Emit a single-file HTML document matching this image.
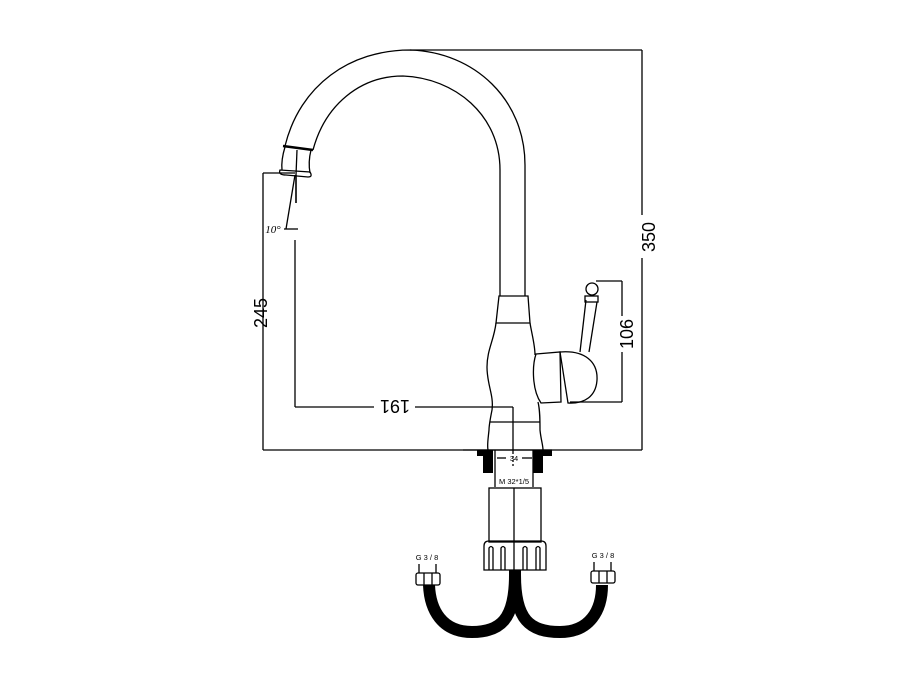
<!DOCTYPE html>
<html><head><meta charset="utf-8"><style>
html,body{margin:0;padding:0;background:#fff;}
svg{display:block;}
text{font-family:"Liberation Sans",sans-serif;fill:#000;}
</style></head><body>
<svg width="900" height="679" viewBox="0 0 900 679" xmlns="http://www.w3.org/2000/svg">
<g fill="none" stroke="#000" stroke-width="1.3">
<path d="M285,146 C300,85 350,50 410,50 C475,52 525,100 525,165 L525,296"/>
<path d="M313,150 C325,105 360,76 403,76 C455,78 500,115 500,170 L500,296"/>
<path d="M283,146 L313,150" stroke-width="2.5"/>
<path d="M285,147 Q281,160 282,170 M311,150 Q308,162 310,173"/>
<path d="M280,170 Q278,175 286,175 L308,177 Q313,177 310,172 Z"/>
<line x1="297" y1="150" x2="296" y2="175"/>
<line x1="296" y1="175" x2="296" y2="203" stroke-width="1.6"/>
<line x1="295" y1="175" x2="286" y2="229"/>
<line x1="284" y1="229" x2="298" y2="229"/>
<line x1="263" y1="173" x2="295" y2="173"/>
<line x1="263" y1="173" x2="263" y2="450"/>
<line x1="263" y1="450" x2="642" y2="450"/>
<line x1="410" y1="50" x2="642" y2="50"/>
<line x1="642" y1="50" x2="642" y2="215"/>
<line x1="642" y1="258" x2="642" y2="450"/>
<line x1="295" y1="240" x2="295" y2="407"/>
<line x1="295" y1="407" x2="374" y2="407"/>
<line x1="415" y1="407" x2="513" y2="407"/>
<line x1="513" y1="407" x2="513" y2="452"/>
<line x1="513" y1="452" x2="513" y2="468" stroke-dasharray="2,2"/>
<path d="M499,296 L528,296 L530,323 L496,323 Z"/>
<path d="M496,323 C494,340 487,350 487,367 C487,385 494,395 492,410 C490,420 489,425 489,430 C488,440 487,445 488,450"/>
<path d="M530,323 C532,335 535,345 535,355 M538,402 C540,410 540,420 540,430 C541,440 543,445 543,450"/>
<line x1="490" y1="422" x2="540" y2="422"/>
<path d="M536,354 L560,352 L561,402 L541,403 C532,390 532,366 536,354 Z"/>
<path d="M560,352 C585,350 598,362 597,380 C596,396 585,404 568,403 Z"/>
<path d="M580,352 L586,300 M589,352 L597,302"/>
<rect x="585" y="296" width="13" height="6"/>
<circle cx="592" cy="289" r="6"/>
<line x1="596" y1="281" x2="622" y2="281"/>
<line x1="622" y1="281" x2="622" y2="316"/>
<line x1="622" y1="352" x2="622" y2="402"/>
<line x1="570" y1="402" x2="622" y2="402"/>
<line x1="463" y1="450" x2="552" y2="450"/>
<line x1="495" y1="450" x2="495" y2="487"/>
<line x1="533" y1="450" x2="533" y2="487"/>
<line x1="497" y1="458" x2="506" y2="458"/>
<line x1="522" y1="458" x2="532" y2="458"/>
<rect x="489" y="488" width="52" height="54"/>
<line x1="514" y1="488" x2="514" y2="570"/>
<path d="M484,570 L484,546 Q484,541 489,541 L541,541 Q546,541 546,546 L546,570 Z"/>
<path d="M489,570 L489,548 Q491,545 493,548 L493,570 M501,570 L501,548 Q503,545 505,548 L505,570 M523,570 L523,548 Q525,545 527,548 L527,570 M536,570 L536,548 Q538,545 540,548 L540,570"/>
<path d="M515,575 C515,620 500,632 472,632 C442,632 430,610 429,585" stroke-width="12"/>
<path d="M515,575 C515,620 530,632 560,632 C590,632 602,610 602,585" stroke-width="12"/>
<rect x="416" y="573" width="24" height="12" rx="2"/>
<line x1="424" y1="573" x2="424" y2="585"/><line x1="432" y1="573" x2="432" y2="585"/>
<line x1="419" y1="564" x2="419" y2="573"/><line x1="436" y1="564" x2="436" y2="573"/>
<rect x="591" y="571" width="24" height="12" rx="2"/>
<line x1="599" y1="571" x2="599" y2="583"/><line x1="607" y1="571" x2="607" y2="583"/>
<line x1="594" y1="562" x2="594" y2="571"/><line x1="611" y1="562" x2="611" y2="571"/>
</g>
<g fill="#000">
<path d="M477,450 L493,450 L493,473 L483,473 L483,456 L477,456 Z"/>
<path d="M552,450 L533,450 L533,473 L543,473 L543,456 L552,456 Z"/>
<rect x="509" y="570" width="12" height="10"/>
</g>
<text x="514" y="461" font-size="7.5" text-anchor="middle">34</text>
<text x="514" y="484" font-size="7.5" text-anchor="middle">M 32*1/5</text>
<text x="427" y="560" font-size="7.5" text-anchor="middle">G 3 / 8</text>
<text x="603" y="558" font-size="7.5" text-anchor="middle">G 3 / 8</text>
<text x="273" y="233" font-size="11" font-style="italic" text-anchor="middle" style="font-family:'Liberation Serif',serif">10°</text>
<text transform="translate(655,237) rotate(-90)" font-size="18" text-anchor="middle">350</text>
<text transform="translate(267,313) rotate(-90)" font-size="18" text-anchor="middle">245</text>
<text transform="translate(633,334) rotate(-90)" font-size="18" text-anchor="middle">106</text>
<text transform="translate(395,400) rotate(180)" font-size="18" text-anchor="middle">191</text>
</svg>
</body></html>
